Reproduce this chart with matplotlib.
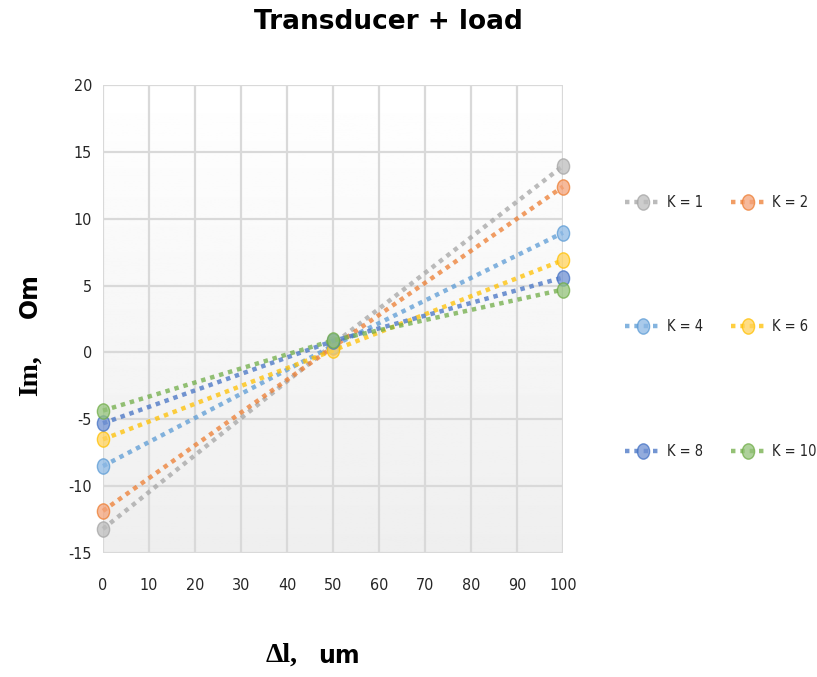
import numpy as np
import matplotlib
matplotlib.use("Agg")
import matplotlib.pyplot as plt
from matplotlib.path import Path
from matplotlib.transforms import Affine2D

plt.rcParams["axes.unicode_minus"] = False

# Displacement points (um)
x_um = [0, 50, 100]

# Imaginary part of impedance (Om) for each coupling factor K
k_labels = ["K = 1", "K = 2", "K = 4", "K = 6", "K = 8", "K = 10"]
im_k1 = [-13.2, 0.6, 13.95]
im_k2 = [-11.85, 0.4, 12.4]
im_k4 = [-8.5, 0.5, 8.95]
im_k6 = [-6.5, 0.15, 6.9]
im_k8 = [-5.3, 0.85, 5.6]
im_k10 = [-4.35, 0.9, 4.7]
series = [im_k1, im_k2, im_k4, im_k6, im_k8, im_k10]

line_colors = ["#A5A5A5", "#ED7D31", "#5B9BD5", "#FFC000", "#4472C4", "#70AD47"]
fill_colors = ["#BDBDBD", "#F4A37A", "#8DB9E5", "#FFD25C", "#6F90D2", "#93C27A"]

x_ticks = list(range(0, 101, 10))
y_ticks = list(range(-15, 21, 5))

tick_font = "DejaVu Sans"

# slightly tall ellipse for markers
ellipse = Path.unit_circle().transformed(Affine2D().scale(0.8, 1.0))

fig = plt.figure(figsize=(8.17, 6.77), dpi=100)
ax = fig.add_axes([103 / 817, 1 - 553 / 677, 460 / 817, 468 / 677])

# plot-area background: white at the top fading to light grey at the bottom
grad = np.linspace(1.0, 0.935, 256).reshape(-1, 1)
ax.imshow(grad, cmap="gray", vmin=0, vmax=1, aspect="auto",
          extent=[0, 1, 0, 1], transform=ax.transAxes, zorder=0)

ax.set_xlim(0, 100)
ax.set_ylim(-15, 20)
ax.set_xticks(x_ticks)
ax.set_yticks(y_ticks)
ax.grid(True, color="#D9D9D9", linewidth=1.6, zorder=1)
ax.set_axisbelow(True)
for s in ax.spines.values():
    s.set_visible(False)
ax.tick_params(axis="x", length=0, pad=18, labelsize=11.5, labelcolor="#262626")
ax.tick_params(axis="y", length=0, pad=8, labelsize=11.5, labelcolor="#262626")
for lab in ax.get_xticklabels() + ax.get_yticklabels():
    lab.set_family(tick_font)
    lab.set_fontstretch("condensed")

handles = []
for vals, lc, fc, lab in zip(series, line_colors, fill_colors, k_labels):
    ln, = ax.plot(x_um, vals, color=lc, alpha=0.75, linewidth=3.2,
                  linestyle=(0, (1, 1.1)), dash_capstyle="butt",
                  marker=ellipse, markersize=11, markerfacecolor=fc,
                  markeredgecolor=lc, markeredgewidth=1.0, label=lab,
                  zorder=3, clip_on=False)
    handles.append(ln)

# legend: three rows, two columns (filled column by column)
order = [0, 2, 4, 1, 3, 5]
leg = fig.legend([handles[i] for i in order], [k_labels[i] for i in order],
                 ncol=2, loc="upper left", bbox_to_anchor=(612 / 817, 1 - 182 / 677),
                 frameon=False, labelspacing=7.5, handlelength=2.4,
                 handletextpad=0.45, columnspacing=1.9, numpoints=1,
                 prop={"family": tick_font, "size": 10.5, "stretch": "condensed"})
for t in leg.get_texts():
    t.set_color("#262626")

fig.text(388 / 817, 1 - 22 / 677, "Transducer + load", ha="center", va="center",
         fontsize=19, fontweight="bold", family="DejaVu Sans")

# axis titles combine a serif symbol part and a sans unit part
fig.text(282 / 817, 1 - 655 / 677, "Δl,", ha="center", va="center",
         fontsize=20, fontweight="bold", family="Liberation Serif")
fig.text(339 / 817, 1 - 656 / 677, "um", ha="center", va="center",
         fontsize=17, fontweight="bold", family="DejaVu Sans")
fig.text(30 / 817, 1 - 376 / 677, "Im,", ha="center", va="center", rotation=90,
         fontsize=20, fontweight="bold", family="Liberation Serif")
fig.text(30 / 817, 1 - 296 / 677, "Om", ha="center", va="center", rotation=90,
         fontsize=17, fontweight="bold", family="DejaVu Sans")

fig.savefig("out.png", dpi=100)
